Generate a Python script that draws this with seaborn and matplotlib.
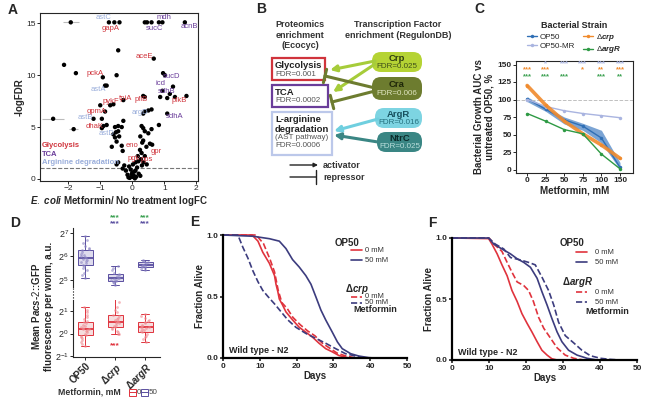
import matplotlib
matplotlib.use("Agg")
import matplotlib.pyplot as plt
from matplotlib.patches import FancyBboxPatch, Rectangle
from matplotlib.lines import Line2D
import numpy as np
import pandas as pd
import seaborn as sns

# ---------------- panel A: proteomics volcano ----------------
volcano_logfc = [-1.92, -0.73, -0.56, -0.40, 0.39, 0.46, 0.60, 0.83, 0.94, 1.64,
                 -0.44, 0.67, -2.13, -1.76, -0.49, -0.92, 0.96, 1.02,
                 -0.85, -0.80, 1.27, 0.94, 1.17, 0.34, 0.39, 0.87, 1.09, 1.33, 1.69,
                 -1.00, -0.69, -0.59, -0.28, -0.85, -0.95, -0.28, 0.50, 0.60, 0.34, 0.39, 1.09,
                 -2.47, -1.21, -1.83, -0.95, -0.90, -0.80, -0.54, -0.44, -0.33,
                 -0.51, -0.44, -0.59, -0.54, -0.49, -0.41, -0.64, -0.33, -0.30,
                 0.29, 0.34, 0.39, 0.50, 0.60, 0.83,
                 0.25, 0.34, 0.31, 0.44, 0.55, 0.62,
                 0.24, 0.29, 0.17, 0.39, 0.27, 0.10, 0.19,
                 -0.44, -0.49,
                 -0.10, -0.05, 0.00, 0.05, -0.15, 0.10, 0.15, -0.20, 0.20, 0.00, -0.08, 0.08,
                 0.12, -0.12, 0.30, 0.35, 0.45, -0.25, -0.30, 0.25, 0.02, -0.02, 0.06]
volcano_logfdr = [15.1, 15.1, 15.1, 15.1, 15.1, 15.1, 15.1, 15.1, 15.1, 15.1,
                  12.4, 11.6, 11.0, 10.2, 10.0, 9.8, 10.2, 10.0,
                  9.0, 9.0, 8.9, 8.5, 8.2, 8.0, 7.9, 7.9, 7.8, 7.9, 8.0,
                  7.1, 7.1, 7.2, 7.6, 6.5, 5.8, 5.6, 6.6, 6.7, 6.3, 6.5, 6.3,
                  5.8, 5.8, 4.8, 4.9, 5.1, 5.2, 5.0, 5.1, 5.0,
                  4.5, 4.6, 4.3, 4.0, 3.6, 4.1, 3.1, 3.2, 2.7,
                  5.1, 4.9, 4.6, 4.4, 4.8, 5.2,
                  4.1, 3.7, 3.5, 3.1, 3.4, 3.3,
                  2.8, 2.5, 2.2, 2.2, 1.9, 1.6, 1.7,
                  1.6, 1.4,
                  1.2, 0.9, 0.6, 0.3, 0.4, 0.8, 1.1, 0.8, 0.5, 0.2, 0.1, 0.05,
                  0.2, 0.15, 1.3, 1.6, 1.4, 1.3, 1.0, 0.3, 1.4, 0.45, 0.7]
err_logfc = [-1.92, -2.47, -1.83]
err_logfdr = [15.1, 5.8, 4.8]
err_width = [0.25, 0.35, 0.15]

gene_names = ["astC", "gapA", "mdh", "sucC", "acnB", "aceE", "pckA", "sucD", "astA", "icd",
              "sdhB", "pfkB", "pflB", "pykF", "tpiA", "gpmA", "argD", "sdhA", "astB", "dhaK",
              "astD", "eno", "gpr", "pgk", "pps"]
gene_logfc = [-0.9, -0.69, 0.98, 0.70, 1.79, 0.39, -1.16, 1.22, -1.06, 0.89,
              1.07, 1.45, 0.29, -0.66, -0.21, -1.11, 0.25, 1.33, -1.47, -1.16,
              -0.80, -0.02, 0.76, 0.06, 0.45]
gene_logfdr = [15.6, 14.5, 15.6, 14.5, 14.7, 11.8, 10.2, 9.9, 8.6, 9.2,
               8.4, 7.6, 7.7, 7.5, 7.8, 6.5, 6.45, 6.0, 5.9, 5.1,
               4.4, 3.2, 2.6, 2.0, 1.9]
gene_group = ["arg", "gly", "tca", "tca", "tca", "gly", "gly", "tca", "arg", "tca",
              "tca", "gly", "gly", "gly", "gly", "gly", "arg", "tca", "arg", "gly",
              "arg", "gly", "gly", "gly", "gly"]
group_names = ["Glycolysis", "TCA", "Arginine degradation"]

# ---------------- panel B: enrichment diagram ----------------
pathway_titles = ["Glycolysis", "TCA", "L-arginine\ndegradation"]
pathway_fdr = ["FDR=0.001", "FDR=0.0002", "(AST pathway)\nFDR=0.0006"]
tf_names = ["Crp", "Cra", "ArgR", "NtrC"]
tf_fdr = ["FDR=0.025", "FDR=0.006", "FDR=0.016", "FDR=0.025"]
tf_links = [("Crp", 0, "act"), ("Crp", 1, "act"), ("Cra", 0, "rep"), ("Cra", 1, "rep"),
            ("ArgR", 2, "act"), ("NtrC", 2, "act")]

# ---------------- panel C: bacterial growth ----------------
c_doses = ["0", "25", "50", "75", "100", "150"]
c_op50 = [101, 86, 71, 62, 45, 3]
c_op50_lo = [97, 83, 65, 56, 38, 0]
c_op50_hi = [104, 89, 75, 66, 56, 10]
c_op50mr = [100, 90, 84, 80, 77, 74]
c_crp = [120, 92, 69, 51, 35, 16]
c_argr = [80, 69, 57, 51, 22, 1]
c_stars_mr = ["", "*", "***", "***", "***", "***"]
c_stars_crp = ["***", "***", "", "*", "**", "***"]
c_stars_argr = ["***", "***", "***", "", "***", "**"]

# ---------------- panel D: acs-2::GFP (log2 values) ----------------
d_strains = ["OP50", "crp", "argR"]
d_op50_50 = [6.85, 6.7, 6.55, 6.45, 6.35, 6.3, 6.25, 6.2, 6.1, 6.05, 6.0, 5.98, 5.95,
             5.9, 5.85, 5.8, 5.75, 5.7, 5.65, 5.6, 5.5, 5.4, 5.3, 5.2, 5.1]
d_crp_50 = [5.6, 5.5, 5.4, 5.3, 5.25, 5.2, 5.15, 5.1, 5.08, 5.05, 5.0, 4.98, 4.95,
            4.92, 4.9, 4.85, 4.8]
d_argr_50 = [5.85, 5.82, 5.78, 5.75, 5.7, 5.65, 5.62, 5.6, 5.58, 5.55, 5.5, 5.45, 5.42]
d_op50_0 = [1.2, 1.06, 0.95, 0.85, 0.75, 0.65, 0.55, 0.5, 0.45, 0.4, 0.35, 0.3, 0.25,
            0.21, 0.2, 0.15, 0.1, 0.05, 0.0, -0.05, -0.1, -0.15, -0.2, -0.3, -0.4, -0.47, -0.55]
d_crp_0 = [1.8, 1.41, 1.2, 1.05, 0.95, 0.85, 0.77, 0.7, 0.65, 0.6, 0.55, 0.5, 0.49,
           0.45, 0.4, 0.35, 0.3, 0.25, 0.2, 0.1, 0.05, 0.0, -0.04]
d_argr_0 = [0.86, 0.8, 0.7, 0.6, 0.56, 0.5, 0.45, 0.4, 0.35, 0.3, 0.27, 0.25, 0.2,
            0.15, 0.1, 0.05, 0.0, -0.09, -0.15, -0.25, -0.37]

# ---------------- panel E: lifespan on crp ----------------
e_day_op50_0 = [0, 7.9, 9.5, 10.8, 12.6, 14.0, 14.4, 14.9, 15.3, 16.2, 17.1, 18.9, 20.7, 22.5, 24.3, 26.1, 27.9, 29.7, 31.5, 34.2]
e_op50_0 = [1, 1, 0.95, 0.86, 0.77, 0.67, 0.6, 0.54, 0.48, 0.43, 0.375, 0.31, 0.25, 0.21, 0.17, 0.12, 0.076, 0.05, 0.02, 0]
e_day_crp_0 = [0, 9, 11, 12.8, 14, 15, 16, 17.5, 19, 21, 23, 25, 27, 29, 31, 33, 36]
e_crp_0 = [1, 1, 0.93, 0.8, 0.7, 0.55, 0.45, 0.4, 0.33, 0.27, 0.22, 0.18, 0.12, 0.08, 0.04, 0.02, 0]
e_day_op50_50 = [0, 8.1, 12.6, 15.3, 17.1, 18.9, 20.7, 22.5, 23.9, 25.2, 26.6, 27.9, 29.7, 31.1, 32.4, 34.7, 36.9, 39.6, 41]
e_op50_50 = [1, 0.99, 0.97, 0.95, 0.89, 0.8, 0.74, 0.67, 0.6, 0.5, 0.39, 0.31, 0.21, 0.13, 0.076, 0.035, 0.016, 0.003, 0]
e_day_crp_50 = [0, 4.05, 5.4, 6.8, 8.1, 9.5, 10.8, 12.2, 14, 15.8, 17.6, 19.8, 22.5, 25.2, 27.9, 30.6, 33.3, 36, 38.7]
e_crp_50 = [1, 1, 0.9, 0.81, 0.71, 0.62, 0.55, 0.5, 0.44, 0.375, 0.31, 0.25, 0.2, 0.16, 0.12, 0.076, 0.035, 0.016, 0]

# ---------------- panel F: lifespan on argR ----------------
f_day_op50_0 = [0, 9.9, 10.8, 12.2, 13.5, 14.9, 16.2, 17.6, 18.9, 20.3, 21.6, 23, 24.3, 25.7, 27, 28.4]
f_op50_0 = [1, 0.995, 0.95, 0.87, 0.78, 0.69, 0.57, 0.48, 0.38, 0.3, 0.23, 0.15, 0.08, 0.04, 0.01, 0]
f_day_argr_0 = [0, 10, 11.7, 13.5, 14.9, 16.2, 17.6, 19.4, 20.7, 22, 23.4, 24.8, 26.6, 28.4, 30.6, 32.9, 35.6]
f_argr_0 = [1, 1, 0.94, 0.89, 0.8, 0.72, 0.64, 0.61, 0.57, 0.48, 0.35, 0.26, 0.18, 0.1, 0.04, 0.014, 0]
f_day_op50_50 = [0, 9.9, 11.3, 13.5, 15.8, 17.6, 19.4, 21.2, 23, 24.3, 25.7, 27, 28.4, 29.7, 31.5, 33.8, 36.5, 39.2]
f_op50_50 = [1, 1, 0.95, 0.91, 0.87, 0.83, 0.8, 0.76, 0.67, 0.56, 0.45, 0.34, 0.23, 0.15, 0.08, 0.04, 0.014, 0]
f_day_argr_50 = [0, 9.9, 11.7, 14, 15.8, 18.5, 20.7, 22.5, 24.3, 26.1, 27.5, 28.8, 30.6, 32.9, 35.1, 37.4, 40.1, 42.8, 45.5]
f_argr_50 = [1, 1, 0.95, 0.91, 0.84, 0.82, 0.8, 0.78, 0.68, 0.57, 0.45, 0.31, 0.2, 0.14, 0.08, 0.035, 0.014, 0.005, 0]

RED = "#e0333d"
NAVY = "#3c3c7e"
PURPLE = "#5a4fa0"
GREEN_STAR = "#3aa050"
group_colors = {"gly": "#d0343c", "tca": "#6a3d9a", "arg": "#9aaedb"}

sns.set_theme(style="ticks")
plt.rcParams["font.family"] = ["Liberation Sans", "DejaVu Sans"]
plt.rcParams["mathtext.fontset"] = "custom"
plt.rcParams["mathtext.rm"] = "Liberation Sans"
plt.rcParams["mathtext.it"] = "Liberation Sans:italic:bold"
plt.rcParams["mathtext.bf"] = "Liberation Sans:bold"
plt.rcParams["axes.linewidth"] = 0.8

W, H = 650, 398
fig = plt.figure(figsize=(W / 100, H / 100), dpi=100)


def box(l, t, r, b):
    return [l / W, 1 - b / H, (r - l) / W, (b - t) / H]


def small_ticks(ax, size=6, bold=False):
    ax.tick_params(labelsize=size, length=2, width=0.7, pad=1)
    if bold:
        for lab in ax.get_xticklabels() + ax.get_yticklabels():
            lab.set_fontweight("bold")


# ---- A ----
axA = fig.add_axes(box(40, 13, 198, 181))
axA.errorbar(err_logfc, err_logfdr, xerr=err_width, fmt="none", ecolor="#bbbbbb", elinewidth=0.8)
sns.scatterplot(x=volcano_logfc, y=volcano_logfdr, color="black", s=10, edgecolor="none", ax=axA, zorder=3)
axA.axhline(1.1, ls="--", color="#777777", lw=0.8)
for name, gx, gy, grp in zip(gene_names, gene_logfc, gene_logfdr, gene_group):
    axA.text(gx, gy, name, color=group_colors[grp], fontsize=5.5, ha="center", va="center", zorder=4)
for i, (gname, key) in enumerate(zip(group_names, ["gly", "tca", "arg"])):
    axA.text(-2.83, 3.2 - i * 0.8, gname, color=group_colors[key], fontsize=5.5,
             fontweight="bold", ha="left", va="center")
axA.set_xlim(-2.88, 2.05)
axA.set_ylim(-0.2, 16)
axA.set_xticks([-2, -1, 0, 1, 2])
axA.set_yticks([0, 5, 10, 15])
small_ticks(axA)
axA.set_xlabel(r"$\mathit{E.\ coli}$ Metformin/ No treatment logFC", fontsize=7, fontweight="bold", labelpad=1)
axA.set_ylabel("-logFDR", fontsize=7, fontweight="bold", labelpad=1)

# ---- C ----
axC = fig.add_axes(box(516, 61, 633, 173))
c_pos = np.arange(len(c_doses))
axC.fill_between(c_pos, c_op50_lo, c_op50_hi, color="#4f86c6", alpha=0.75, lw=0)
axC.axhline(100, ls="--", color="#c0c0c0", lw=0.7)
strain_style = [("OP50", c_op50, "#2f6fb5", 1.0), ("OP50-MR", c_op50mr, "#a9b4e0", 1.0),
                (r"Δ$\mathit{crp}$", c_crp, "#f08a2c", 2.6), (r"Δ$\mathit{argR}$", c_argr, "#2e9a44", 1.0)]
handles = []
for label, vals, col, lw in strain_style:
    sns.lineplot(x=c_pos, y=vals, color=col, lw=lw, marker="o", markersize=2.5,
                 markeredgewidth=0, ax=axC, alpha=0.9 if lw > 2 else 1)
    handles.append(Line2D([], [], color=col, lw=1, marker="o", markersize=2.5, markeredgewidth=0, label=label))
for stars, yv, col in [(c_stars_mr, 151.5, "#a9b4e0"), (c_stars_crp, 142, "#f08a2c"), (c_stars_argr, 132, GREEN_STAR)]:
    for i, s in enumerate(stars):
        axC.text(i, yv, s, color=col, fontsize=5.5, fontweight="bold", ha="center", va="center")
axC.set_xlim(-0.6, 5.7)
axC.set_ylim(-5, 155)
axC.set_xticks(c_pos, c_doses)
axC.set_yticks([0, 25, 50, 75, 100, 125, 150])
small_ticks(axC, bold=True)
axC.set_xlabel("Metformin, mM", fontsize=7, fontweight="bold", labelpad=1)
axC.set_ylabel("Bacterial Growth AUC vs\nuntreated OP50, %", fontsize=7, fontweight="bold", labelpad=2,
               linespacing=1.1)
legC = axC.legend(handles=handles, ncol=2, title="Bacterial Strain", loc="lower center",
                  bbox_to_anchor=(0.5, 1.0), frameon=False, fontsize=5.8, handlelength=1.2,
                  columnspacing=1.0, handletextpad=0.4, labelspacing=0.2, borderaxespad=0.3)
legC.get_title().set_fontweight("bold")
legC.get_title().set_fontsize(6.5)

# ---- D ----
d_top = pd.DataFrame({"strain": ["OP50"] * len(d_op50_50) + ["crp"] * len(d_crp_50) + ["argR"] * len(d_argr_50),
                      "log2": d_op50_50 + d_crp_50 + d_argr_50})
d_bot = pd.DataFrame({"strain": ["OP50"] * len(d_op50_0) + ["crp"] * len(d_crp_0) + ["argR"] * len(d_argr_0),
                      "log2": d_op50_0 + d_crp_0 + d_argr_0})
np.random.seed(3)
axDt = fig.add_axes(box(73, 228, 160, 287))
axDb = fig.add_axes(box(73, 300, 160, 357))
for ax, df, face, edge, dots in [(axDt, d_top, "#dcd8f0", PURPLE, "#8d86c4"),
                                 (axDb, d_bot, "#f9d9db", RED, "#ef8a90")]:
    sns.boxplot(data=df, x="strain", y="log2", order=d_strains, color=face, linecolor=edge,
                width=0.5, linewidth=0.7, fliersize=0, whis=2.0, medianprops=dict(linewidth=1.3), ax=ax)
    sns.stripplot(data=df, x="strain", y="log2", order=d_strains, color=dots, size=2, alpha=0.6,
                  jitter=0.15, ax=ax)
    ax.set_xlim(-0.4, 2.5)
    ax.set_xlabel("")
    ax.set_ylabel("")
    sns.despine(ax=ax)
axDt.set_ylim(4.7, 7.2)
axDt.set_yticks([5, 6, 7], [r"$2^{5}$", r"$2^{6}$", r"$2^{7}$"])
axDt.spines["bottom"].set_visible(False)
axDt.set_xticks([])
axDb.set_ylim(-1.05, 1.5)
axDb.set_yticks([-1, 0, 1], [r"$2^{-1}$", r"$2^{0}$", r"$2^{1}$"])
axDb.set_xticks([0, 1, 2], ["OP50", r"Δ$\mathit{crp}$", r"Δ$\mathit{argR}$"], rotation=45,
                ha="right", rotation_mode="anchor")
small_ticks(axDt, size=6.5)
small_ticks(axDb, size=6.5)
for lab in axDb.get_xticklabels():
    lab.set_fontweight("bold")
    lab.set_fontsize(7)
axDb.text(1, -0.55, "***", color=RED, fontsize=6, fontweight="bold", ha="center", va="center")
for xi in [1, 2]:
    axDt.text(xi, 7.62, "***", color=GREEN_STAR, fontsize=6, fontweight="bold", ha="center", va="center", clip_on=False)
    axDt.text(xi, 7.37, "***", color=PURPLE, fontsize=6, fontweight="bold", ha="center", va="center", clip_on=False)

# ---- E and F ----
axE = fig.add_axes(box(223, 235, 407, 358))
axF = fig.add_axes(box(452, 238, 637, 360))
curvesE = [(e_day_op50_0, e_op50_0, RED, "-"), (e_day_crp_0, e_crp_0, RED, "--"),
           (e_day_op50_50, e_op50_50, NAVY, "-"), (e_day_crp_50, e_crp_50, NAVY, "--")]
curvesF = [(f_day_op50_0, f_op50_0, RED, "-"), (f_day_argr_0, f_argr_0, RED, "--"),
           (f_day_op50_50, f_op50_50, NAVY, "-"), (f_day_argr_50, f_argr_50, NAVY, "--")]
for ax, curves in [(axE, curvesE), (axF, curvesF)]:
    for days, alive, col, ls in curves:
        sns.lineplot(x=days, y=alive, color=col, ls=ls, lw=1.2, ax=ax, clip_on=False)
    ax.set_xlim(0, 50)
    ax.set_ylim(0, 1.0)
    ax.set_xticks([0, 10, 20, 30, 40, 50])
    ax.set_yticks([0, 0.5, 1.0], ["0.0", "0.5", "1.0"])
    sns.despine(ax=ax)
    for sp in ["left", "bottom"]:
        ax.spines[sp].set_linewidth(1.6)
        ax.spines[sp].set_color("black")
    small_ticks(ax, bold=True)
    ax.tick_params(width=1.2, length=2.5)
    ax.set_xlabel("Days", fontsize=7, fontweight="bold", labelpad=1)
    ax.set_ylabel("Fraction Alive", fontsize=7, fontweight="bold", labelpad=1)
    ax.text(1.5, 0.065, "Wild type - N2", fontsize=6.5, fontweight="bold", ha="left", va="center")

# ---- overlay in pixel coordinates: panel B, letters, legends ----
ov = fig.add_axes([0, 0, 1, 1])
ov.set_xlim(0, W)
ov.set_ylim(H, 0)
ov.axis("off")
ov.patch.set_alpha(0)

for letter, (lx, ly) in zip("ABCDEF", [(8, 10), (256, 9), (474, 9), (10, 223), (190, 222), (428, 223)]):
    ov.text(lx, ly, letter, fontsize=10, fontweight="bold", ha="left", va="center")

# B headers
ov.text(300, 35, "Proteomics\nenrichment\n(Ecocyc)", fontsize=6.5, fontweight="bold", ha="center",
        va="center", linespacing=1.15, color="#333333")
ov.text(398, 30, "Transcription Factor\nenrichment (RegulonDB)", fontsize=6.5, fontweight="bold",
        ha="center", va="center", linespacing=1.15, color="#333333")
path_boxes = [(272, 58, 325, 80), (272, 85, 328, 107), (272, 112, 332, 155)]
path_edges = ["#d0343c", "#6a3d9a", "#bcc8ea"]
for (x0, y0, x1, y1), title, fdr, ec in zip(path_boxes, pathway_titles, pathway_fdr, path_edges):
    ov.add_patch(Rectangle((x0, y0), x1 - x0, y1 - y0, fill=False, ec=ec, lw=1.6))
    n_title = title.count("\n") + 1
    ov.text(x0 + 3, y0 + 3, title, fontsize=6.8, fontweight="bold", ha="left", va="top",
            linespacing=1.15, color="#222222")
    ov.text(x0 + 3, y0 + 3 + n_title * 9.5, fdr, fontsize=5.8, ha="left", va="top",
            linespacing=1.2, color="#555555")
tf_boxes = [(372, 52, 422, 72), (372, 77, 422, 100), (375, 108, 422, 128), (377, 132, 422, 152)]
tf_faces = ["#b5d334", "#6d7c2f", "#7dd4e2", "#3a8684"]
tf_text = ["#2f3d10", "#1e2608", "#17505e", "#0b2b2b"]
tf_sub = ["#3f4f1a", "#dfe5c0", "#24707e", "#b9dedb"]
for (x0, y0, x1, y1), name, fdr, fc, tc, sc in zip(tf_boxes, tf_names, tf_fdr, tf_faces, tf_text, tf_sub):
    ov.add_patch(FancyBboxPatch((x0, y0), x1 - x0, y1 - y0, boxstyle="round,pad=0,rounding_size=9",
                                fc=fc, ec="none"))
    cx = (x0 + x1) / 2
    ov.text(cx, y0 + (y1 - y0) * 0.32, name, fontsize=6.8, fontweight="bold", ha="center", va="center", color=tc)
    ov.text(cx, y0 + (y1 - y0) * 0.72, fdr, fontsize=5.8, ha="center", va="center", color=sc)
link_colors = {"Crp": "#a6cc3a", "Cra": "#6d7c2f", "ArgR": "#6fcfdf", "NtrC": "#3a8684"}
link_targets = {("Crp", 0): (330, 70), ("Crp", 1): (333, 92), ("Cra", 0): (325, 76),
                ("Cra", 1): (332, 102), ("ArgR", 2): (334, 131), ("NtrC", 2): (334, 135)}
link_starts = {("Crp", 0): (375, 61), ("Crp", 1): (375, 64), ("Cra", 0): (375, 88),
               ("Cra", 1): (375, 91), ("ArgR", 2): (378, 119), ("NtrC", 2): (378, 142)}
for tf, target, kind in tf_links:
    style = "-|>" if kind == "act" else "-[,widthB=0.55,lengthB=0"
    ov.annotate("", xy=link_targets[(tf, target)], xytext=link_starts[(tf, target)],
                arrowprops=dict(arrowstyle=style, color=link_colors[tf], lw=2.2, mutation_scale=9,
                                shrinkA=0, shrinkB=0))
ov.annotate("", xy=(318, 165), xytext=(290, 165),
            arrowprops=dict(arrowstyle="-|>", color="#222222", lw=1, mutation_scale=6, shrinkA=0, shrinkB=0))
ov.annotate("", xy=(316, 177), xytext=(290, 177),
            arrowprops=dict(arrowstyle="-[,widthB=0.4,lengthB=0", color="#222222", lw=1, shrinkA=0, shrinkB=0))
ov.text(323, 165, "activator", fontsize=6.5, fontweight="bold", ha="left", va="center", color="#333333")
ov.text(323, 177, "repressor", fontsize=6.5, fontweight="bold", ha="left", va="center", color="#333333")

# D axis break, ylabel and legend
ov.plot([73, 73], [288, 299], ls=":", color="black", lw=0.8)
ov.text(42, 306, "Mean P$\\mathit{acs}$-$\\mathit{2}$::GFP\nfluorescence per worm, a.u.", fontsize=7,
        fontweight="bold", rotation=90, ha="center", va="center", linespacing=1.2)
ov.text(58, 392, "Metformin, mM", fontsize=6.3, fontweight="bold", ha="left", va="center", color="#333333")
for x0, col, lab in [(129, RED, "0"), (141, PURPLE, "50")]:
    ov.add_patch(Rectangle((x0, 388.5), 6.5, 7, fc="white", ec=col, lw=0.7))
    ov.plot([x0, x0 + 6.5], [392, 392], color=col, lw=0.7)
    ov.text(x0 + 8, 392, lab, fontsize=5.8, ha="left", va="center", color="#444444")


def life_legend(x_head1, x_head2, head2, x_line, x_text, y_head1, y_l1, y_l2, y_head2, y_l3, y_l4, x_met, y_met):
    ov.text(x_head1, y_head1, "OP50", fontsize=7, fontweight="bold", ha="left", va="center")
    ov.text(x_head2, y_head2, head2, fontsize=7, fontweight="bold", ha="left", va="center")
    for yy, col, ls, lab in [(y_l1, RED, "-", "0 mM"), (y_l2, NAVY, "-", "50 mM"),
                             (y_l3, RED, "--", "0 mM"), (y_l4, NAVY, "--", "50 mM")]:
        ov.plot([x_line, x_line + 11], [yy, yy], color=col, ls=ls, lw=1.2)
        ov.text(x_text, yy, lab, fontsize=5.5, ha="left", va="center", color="#333333")
    ov.text(x_met, y_met, "Metformin", fontsize=6.5, fontweight="bold", ha="left", va="center")


life_legend(335, 345, r"Δ$\mathit{crp}$", 351, 365, 243, 250, 260, 289, 297, 303, 353, 310)
life_legend(560, 562, r"Δ$\mathit{argR}$", 576, 595, 243, 252, 262, 282, 292, 302, 585, 312)

fig.savefig("out.png", dpi=100)
